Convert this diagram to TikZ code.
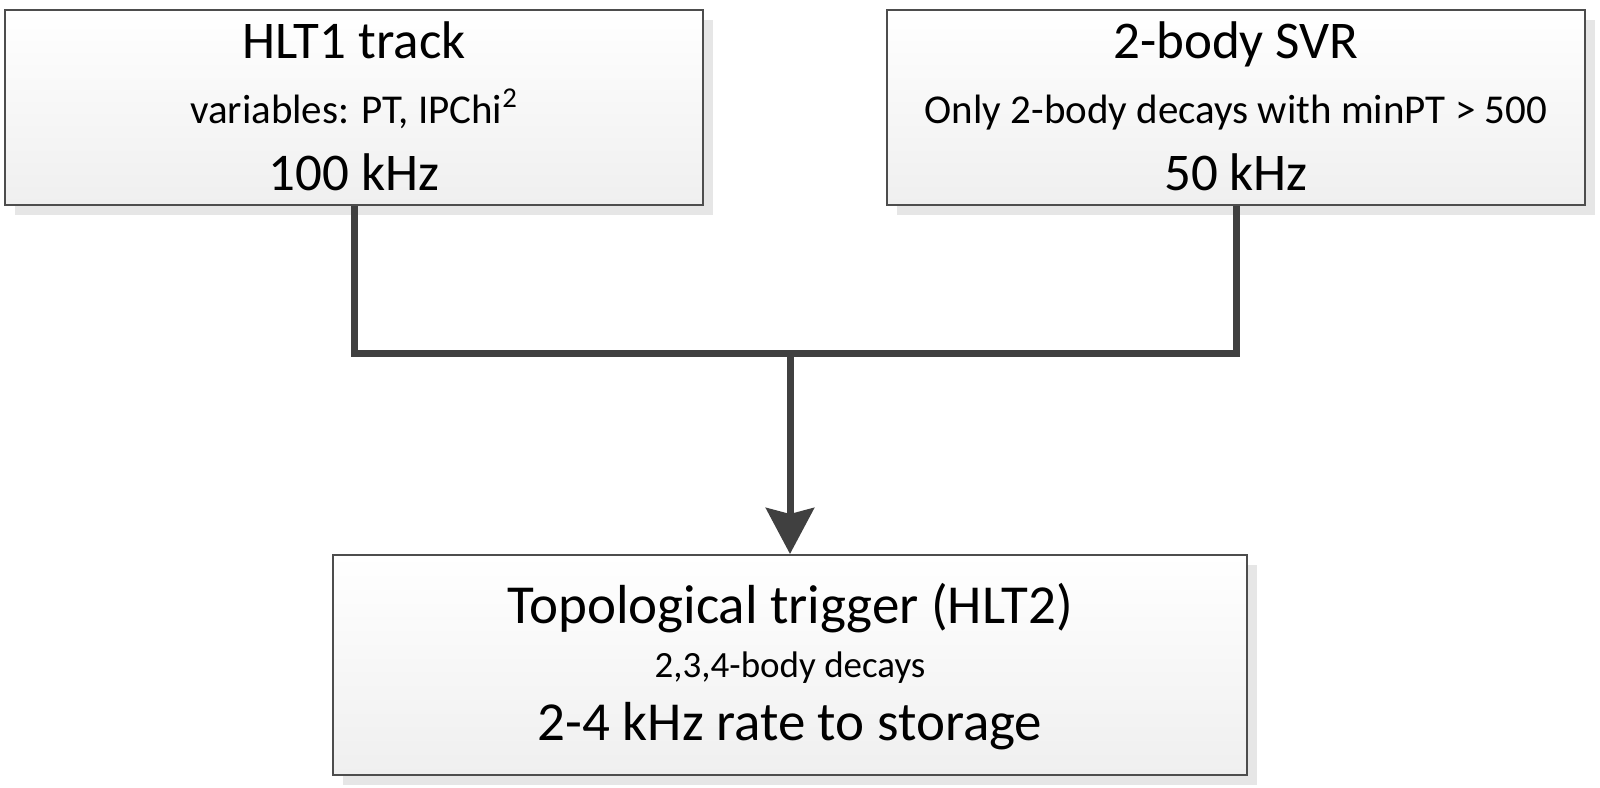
\documentclass[tikz,border=0pt]{standalone}
\usepackage{fontspec}
\setmainfont{Carlito}
\usetikzlibrary{arrows.meta,shadows}
\definecolor{boxline}{HTML}{4D4D4D}
\definecolor{conn}{HTML}{404040}
\definecolor{shadowc}{HTML}{E6E6E6}
\definecolor{boxbot}{HTML}{EFEFEF}
\begin{document}
\begin{tikzpicture}[x=0.5pt,y=-0.5pt,
  boxstyle/.style={draw=boxline, line width=1pt, rectangle, inner sep=0pt,
    top color=white, bottom color=boxbot,
    general shadow={fill=shadowc, draw=none, shadow xshift=5pt, shadow yshift=-5pt}},
  bigtxt/.style={anchor=base, inner sep=0pt, font=\fontsize{26.5}{30}\selectfont},
  midtxt/.style={anchor=base, inner sep=0pt, font=\fontsize{20.5}{24}\selectfont},
  bigtxtb/.style={anchor=base, inner sep=0pt, font=\fontsize{27.5}{31}\selectfont},
  smalltxt/.style={anchor=base, inner sep=0pt, font=\fontsize{18.5}{22}\selectfont},
  connector/.style={draw=conn, line width=3.5pt, line join=miter}
]
\useasboundingbox (0,0) rectangle (1600,787);
\node[boxstyle, minimum width=349pt, minimum height=97.5pt] (b1) at (354,107.5) {};
\node[boxstyle, minimum width=349pt, minimum height=97.5pt] (b2) at (1236,107.5) {};
\node[boxstyle, minimum width=457pt, minimum height=110pt] (b3) at (790,665) {};

\node[bigtxt] (t1a) at (354,58) {HLT1 track};
\node[midtxt] (t1b) at (354,123) {variables: PT, IPChi\textsuperscript{2}};
\node[bigtxt] (t1c) at (354,190) {100 kHz};

\node[bigtxt] (t2a) at (1236,58) {2-body SVR};
\node[midtxt] (t2b) at (1236,123) {Only 2-body decays with minPT > 500};
\node[bigtxt] (t2c) at (1236,190) {50 kHz};

\node[bigtxtb] (t3a) at (790,623) {Topological trigger (HLT2)};
\node[smalltxt] (t3b) at (790,677) {2,3,4-body decays};
\node[bigtxtb] (t3c) at (790,740) {2-4 kHz rate to storage};

\coordinate (j) at (790,353);
\draw[connector] (b1.south) -- (b1.south |- j) -- (b2.south |- j) -- (b2.south);
\draw[connector, -{Stealth[length=23pt, width=24pt, inset=3pt]}] (j) -- (b3.north);
\end{tikzpicture}
\end{document}
